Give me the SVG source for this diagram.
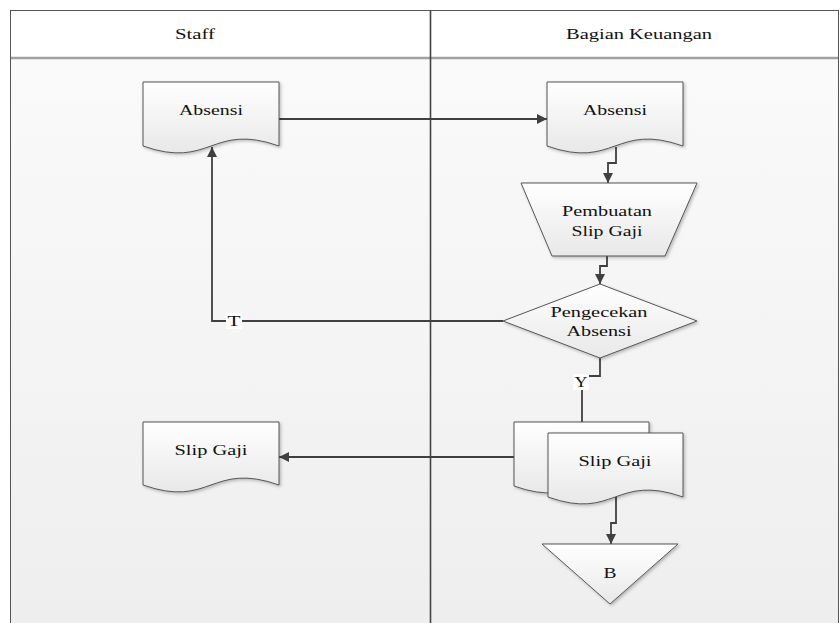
<svg xmlns="http://www.w3.org/2000/svg" width="840" height="623" viewBox="0 0 840 623">
<defs>
<linearGradient id="lane" x1="0" y1="0" x2="0" y2="1"><stop offset="0" stop-color="#fbfbfb"/><stop offset="1" stop-color="#eeeeee"/></linearGradient>
<linearGradient id="shape" x1="0" y1="0" x2="0" y2="1"><stop offset="0" stop-color="#ffffff"/><stop offset="1" stop-color="#e8e8e8"/></linearGradient>
<filter id="sh" x="-10%" y="-10%" width="130%" height="130%"><feDropShadow dx="1.5" dy="1.5" stdDeviation="1.5" flood-color="#000" flood-opacity="0.25"/></filter>
<marker id="arr" viewBox="0 0 10 10" refX="10" refY="5" markerWidth="10" markerHeight="10" markerUnits="userSpaceOnUse" orient="auto"><path d="M0,0 L10,5 L0,10 Z" fill="#404040"/></marker>
</defs>
<style>
.shp{fill:url(#shape);stroke:#555;stroke-width:1;filter:url(#sh)}
.lbl{font-family:"Liberation Serif","Times New Roman",serif;font-size:15px;fill:#111;text-anchor:middle}
.con{fill:none;stroke:#404040;stroke-width:1.8}
.tag{fill:#fff}
</style>
<g id="pool">
<rect x="10" y="10" width="829" height="620" fill="url(#lane)"/>
<rect x="10" y="10" width="829" height="48" fill="#ffffff"/>
<line x1="10" y1="58" x2="839" y2="58" stroke="#a0a0a0" stroke-width="2.5"/>
<rect x="10.5" y="10.5" width="828" height="620" fill="none" stroke="#555" stroke-width="1"/>
<line x1="430.5" y1="10" x2="430.5" y2="623" stroke="#444" stroke-width="1.6"/>
<text class="lbl" x="195" y="39" textLength="40" lengthAdjust="spacingAndGlyphs">Staff</text>
<text class="lbl" x="639" y="39" textLength="146" lengthAdjust="spacingAndGlyphs">Bagian Keuangan</text>
</g>
<g id="connectors">
<path class="con" d="M279,119 H547" marker-end="url(#arr)"/>
<path class="con" d="M616,147 V163 H608 V183" marker-end="url(#arr)"/>
<path class="con" d="M607,256 V266 H600 V284" marker-end="url(#arr)"/>
<path class="con" d="M503,321 H212 V147" marker-end="url(#arr)"/>
<path class="con" d="M600,358 V376 H582 V422"/>
<path class="con" d="M514,457 H279" marker-end="url(#arr)"/>
<path class="con" d="M616,497 V523 H611 V544" marker-end="url(#arr)"/>
<rect class="tag" x="226" y="313" width="16" height="16"/>
<text class="lbl" x="234" y="326" textLength="13" lengthAdjust="spacingAndGlyphs">T</text>
<rect class="tag" x="573" y="374" width="16" height="16"/>
<text class="lbl" x="581" y="387" textLength="13" lengthAdjust="spacingAndGlyphs">Y</text>
</g>
<g id="absensi-staff">
<path class="shp" d="M143,82 H279 V146 C211,122 211,170 143,146 Z"/>
<text class="lbl" x="211" y="115" textLength="64" lengthAdjust="spacingAndGlyphs">Absensi</text>
</g>
<g id="absensi-keuangan">
<path class="shp" d="M547,82 H683 V146 C615,122 615,170 547,146 Z"/>
<text class="lbl" x="615" y="115" textLength="64" lengthAdjust="spacingAndGlyphs">Absensi</text>
</g>
<g id="pembuatan-slip">
<path class="shp" d="M521,183 H697 L665,256 H552 Z"/>
<text class="lbl" x="607" y="216" textLength="90" lengthAdjust="spacingAndGlyphs">Pembuatan</text>
<text class="lbl" x="607" y="236" textLength="71" lengthAdjust="spacingAndGlyphs">Slip Gaji</text>
</g>
<g id="pengecekan">
<path class="shp" d="M600,284 L697,321 L600,358 L503,321 Z"/>
<text class="lbl" x="599" y="317" textLength="97" lengthAdjust="spacingAndGlyphs">Pengecekan</text>
<text class="lbl" x="599" y="336" textLength="65" lengthAdjust="spacingAndGlyphs">Absensi</text>
</g>
<g id="slip-gaji-keuangan">
<path class="shp" d="M514,422 H649 V486 C581,462 581,510 514,486 Z"/>
<path class="shp" d="M548,433 H683 V497 C615,473 615,521 548,497 Z"/>
<text class="lbl" x="615" y="466" textLength="73" lengthAdjust="spacingAndGlyphs">Slip Gaji</text>
</g>
<g id="slip-gaji-staff">
<path class="shp" d="M143,422 H279 V485 C211,461 211,509 143,485 Z"/>
<text class="lbl" x="211" y="455" textLength="73" lengthAdjust="spacingAndGlyphs">Slip Gaji</text>
</g>
<g id="offpage-b">
<path class="shp" d="M542,544 H678 L610,604 Z"/>
<text class="lbl" x="610" y="578" textLength="13" lengthAdjust="spacingAndGlyphs">B</text>
</g>
</svg>
